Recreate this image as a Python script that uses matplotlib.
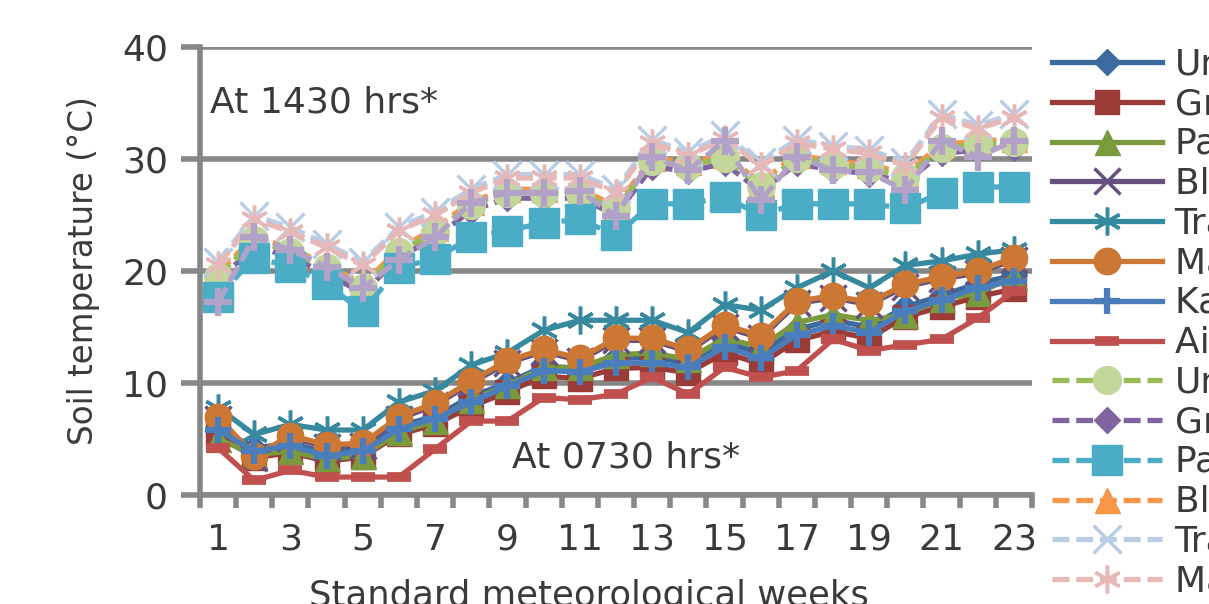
import numpy as np
import matplotlib.pyplot as plt

plt.rcParams['font.family'] = ['DejaVu Sans']

weeks = np.arange(1, 24)
labelled_weeks = weeks[::2]

treatments = ['Unmulched', 'Grass mulch', 'Paddy straw', 'Black polythene',
              'Transparent polythene', 'Maize stover', 'Kans grass', 'Air temperature']

# morning readings (0730 hrs), deg C
u_0730 = [6.0, 4.2, 4.6, 3.8, 4.1, 6.2, 7.0, 8.8, 10.0, 11.5, 11.3, 12.2, 12.3, 11.8, 13.6, 12.7, 14.8, 15.6, 15.0, 16.8, 17.8, 18.9, 19.6]
g_0730 = [5.4, 3.3, 3.8, 3.0, 3.4, 5.4, 6.3, 7.9, 9.2, 10.6, 10.4, 11.3, 11.4, 10.9, 12.7, 11.7, 13.8, 14.6, 14.0, 15.9, 16.8, 17.7, 18.4]
p_0730 = [5.0, 3.6, 3.9, 3.2, 3.5, 5.6, 6.6, 8.5, 9.8, 11.4, 11.4, 12.5, 12.7, 12.1, 14.0, 13.2, 15.4, 16.1, 15.6, 16.1, 17.5, 18.0, 19.5]
b_0730 = [6.8, 3.3, 5.1, 4.3, 4.4, 6.8, 8.0, 10.0, 11.8, 12.8, 12.0, 13.8, 13.8, 12.8, 15.0, 14.0, 17.1, 17.6, 17.0, 18.6, 19.3, 19.8, 21.0]
t_0730 = [7.8, 5.4, 6.3, 5.8, 5.8, 8.3, 9.3, 11.6, 12.7, 14.7, 15.6, 15.6, 15.6, 14.5, 17.0, 16.5, 18.5, 20.0, 18.5, 20.5, 20.9, 21.5, 21.9]
m_0730 = [7.0, 3.5, 5.3, 4.5, 4.6, 7.0, 8.2, 10.2, 12.0, 13.0, 12.2, 14.0, 14.0, 13.0, 15.2, 14.2, 17.3, 17.8, 17.2, 18.8, 19.5, 20.0, 21.2]
k_0730 = [5.8, 3.9, 4.4, 3.5, 3.9, 5.9, 6.8, 8.3, 9.7, 11.1, 11.0, 11.8, 11.8, 11.4, 13.2, 12.2, 14.3, 15.1, 14.5, 16.4, 17.4, 18.5, 19.1]
a_0730 = [4.2, 1.3, 2.2, 1.6, 1.6, 1.6, 4.1, 6.6, 6.6, 8.7, 8.5, 9.0, 10.5, 9.0, 11.4, 10.5, 11.1, 13.9, 12.9, 13.4, 13.9, 15.8, 18.2]

# afternoon readings (1430 hrs), deg C
u_1430 = [19.5, 22.8, 21.7, 20.3, 18.5, 21.7, 23.5, 25.9, 27.0, 27.0, 27.0, 25.5, 29.8, 29.4, 30.1, 27.6, 30.1, 29.5, 29.2, 28.4, 31.0, 31.3, 31.5]
g_1430 = [19.0, 22.3, 21.2, 19.8, 18.0, 21.2, 23.0, 25.4, 26.5, 26.5, 26.5, 25.0, 29.3, 28.9, 29.6, 27.1, 29.6, 29.0, 28.7, 27.9, 30.5, 30.8, 31.0]
p_1430 = [17.7, 21.2, 20.4, 18.8, 16.4, 20.3, 21.1, 23.0, 23.6, 24.3, 24.6, 23.2, 26.0, 26.0, 26.6, 25.0, 26.0, 26.0, 26.0, 25.6, 27.0, 27.5, 27.5]
b_1430 = [19.8, 23.1, 22.0, 20.6, 18.8, 22.0, 23.8, 26.2, 27.3, 27.3, 27.3, 25.8, 30.1, 29.7, 30.4, 27.9, 30.4, 29.8, 29.5, 28.7, 31.3, 31.6, 31.8]
t_1430 = [20.8, 24.9, 23.9, 22.4, 20.8, 23.9, 25.3, 27.3, 28.6, 28.6, 28.6, 27.3, 31.7, 30.6, 32.1, 29.7, 31.7, 31.2, 30.8, 29.7, 34.0, 33.0, 34.0]
m_1430 = [20.5, 24.6, 23.5, 22.1, 20.5, 23.6, 25.0, 27.0, 28.3, 28.3, 28.3, 27.0, 31.4, 30.3, 31.8, 29.4, 31.4, 30.9, 30.5, 29.4, 33.7, 32.7, 33.7]
k_1430 = [17.2, 23.0, 21.9, 20.4, 18.5, 21.0, 23.0, 26.1, 27.0, 27.0, 27.1, 24.9, 30.2, 29.0, 31.6, 26.3, 30.2, 29.0, 28.8, 27.2, 31.6, 30.2, 31.6]

grey = '#878787'
txt = '#3a3a3a'
fs = 26

fig = plt.figure(figsize=(12.09, 6.04), dpi=100)
ax = fig.add_axes([0.1654, 0.1805, 0.6882, 0.7417])


def series(vals, label, color, marker, ms, mfc=None, mew=1.0, dashed=False, z=2):
    ls = (0, (3.2, 1.3)) if dashed else '-'
    ax.plot(weeks, vals, color=color, lw=3.8, ls=ls, marker=marker, ms=ms,
            mfc=mfc or color, mec=mfc or color, mew=mew, label=label, zorder=z)


series(u_0730, treatments[0], '#3c6a9f', 'D', 13)
series(g_0730, treatments[1], '#9b3b38', 's', 17)
series(p_0730, treatments[2], '#7b9a3e', '^', 18)
series(b_0730, treatments[3], '#65507f', 'x', 19, mew=2.5)
series(t_0730, treatments[4], '#36899f', (6, 2, 0), 20, mew=2.5)
series(m_0730, treatments[5], '#cc7834', 'o', 19)
series(k_0730, treatments[6], '#4a7dbb', '+', 19, mew=4.5)
series(a_0730, treatments[7], '#c0504d', '_', 17, mew=7)

series(u_1430, treatments[0], '#9bbb59', 'o', 20, mfc='#c4d79b', dashed=True, z=2.3)
series(g_1430, treatments[1], '#8064a2', 'D', 13, dashed=True, z=2.1)
series(p_1430, treatments[2], '#4bacc6', 's', 21, dashed=True, z=2.4)
series(b_1430, treatments[3], '#f79646', '^', 18, dashed=True, z=2.2)
series(t_1430, treatments[4], '#b9cde5', 'x', 20, mew=2.5, dashed=True, z=2.5)
series(m_1430, treatments[5], '#e6b9b8', (6, 2, 0), 20, mew=2.5, dashed=True, z=2.6)
series(k_1430, treatments[6], '#b3a2c7', '+', 20, mew=4.5, dashed=True, z=2.7)

ax.set_xlim(0.5, 23.5)
ax.set_ylim(0, 40)
ax.set_yticks([0, 10, 20, 30, 40])
ax.set_xticks(np.arange(0.5, 24, 1))
ax.set_xticklabels([])
ax.set_xticks(labelled_weeks, minor=True)
ax.set_xticklabels([str(w) for w in labelled_weeks], minor=True)

ax.grid(axis='y', color=grey, lw=4)
ax.set_axisbelow(True)
for side in ['top', 'right']:
    ax.spines[side].set_visible(False)
for side in ['left', 'bottom']:
    ax.spines[side].set_color(grey)
    ax.spines[side].set_linewidth(4)

ax.tick_params(axis='y', length=14, width=4, color=grey, pad=9, labelsize=fs, labelcolor=txt)
ax.tick_params(axis='x', which='major', length=9, width=4, color=grey)
ax.tick_params(axis='x', which='minor', length=0, pad=20, labelsize=fs, labelcolor=txt)

ax.set_xlabel('Standard meteorological weeks', fontsize=25.5, color=txt)
ax.xaxis.set_label_coords(0.4675, -0.188)
ax.set_ylabel('Soil temperature (\u00b0C)', fontsize=23.5, color=txt)
ax.yaxis.set_label_coords(-0.12, 0.5)

ax.text(0.012, 0.875, 'At 1430 hrs*', transform=ax.transAxes, fontsize=fs,
        color=txt, va='center', ha='left')
ax.text(0.375, 0.083, 'At 0730 hrs*', transform=ax.transAxes, fontsize=fs,
        color=txt, va='center', ha='left')

handles, labels = ax.get_legend_handles_labels()
fig.legend(handles, labels, loc='upper left', bbox_to_anchor=(0.870, 0.921),
           frameon=False, fontsize=fs, labelcolor=txt, handlelength=3.05,
           handletextpad=0.35, labelspacing=0.16, borderpad=0, borderaxespad=0)

fig.savefig('out.png', dpi=100)
